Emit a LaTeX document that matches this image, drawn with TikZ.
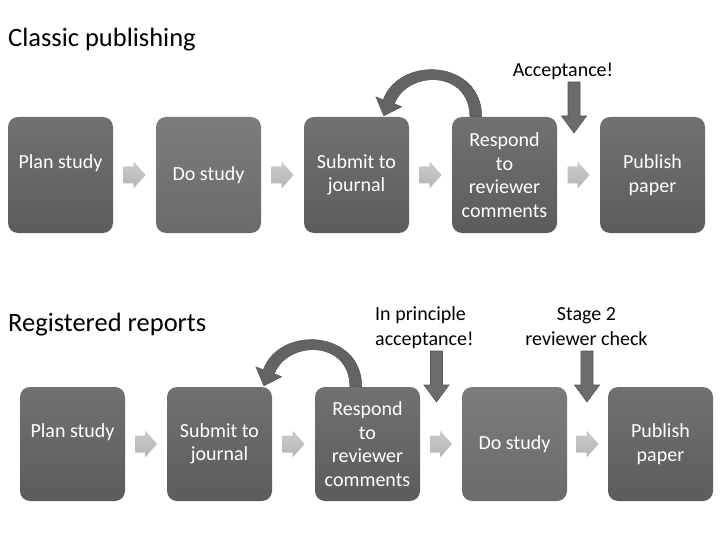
\documentclass[tikz,border=0pt]{standalone}
\usepackage{fontspec}
\setmainfont{Carlito}
\usetikzlibrary{calc}
\definecolor{boxtop}{HTML}{717171}
\definecolor{boxbot}{HTML}{5C5C5C}
\definecolor{dotop}{HTML}{7C7C7C}
\definecolor{dobot}{HTML}{6B6B6B}
\definecolor{blktop}{HTML}{CBCBCB}
\definecolor{blkbot}{HTML}{B4B4B4}
\definecolor{darrow}{HTML}{6C6C6C}
\definecolor{darrowedge}{HTML}{555555}
\definecolor{carrow}{HTML}{636363}
\tikzset{
  stepbox/.style={rounded corners=10pt, minimum width=105pt, minimum height=116pt,
    inner sep=2pt, top color=boxtop, bottom color=boxbot, text=white, align=center,
    font=\fontsize{20}{23.5}\selectfont},
  dobox/.style={stepbox, top color=dotop, bottom color=dobot},
  lowbox/.style={minimum height=114pt},
  boxlabel/.style={text=white, inner sep=0pt, font=\fontsize{20}{23.5}\selectfont},
  titletext/.style={font=\fontsize{26.5}{31}\selectfont, anchor=base west, inner sep=0pt},
  note/.style={font=\fontsize{20}{25}\selectfont, inner sep=0pt},
  blockarr/.style={top color=blktop, bottom color=blkbot, draw=none},
  downarr/.style={fill=darrow, draw=darrowedge, line width=0.6pt},
  curvarr/.style={fill=carrow, draw=carrow!85!black, line width=0.4pt}
}
\newcommand{\myblockarrow}[1]{%
  \shade[blockarr, shift={(#1)}] (-11,-8.5) -- (-1,-8.5) -- (-1,-13.5) -- (11,0)
    -- (-1,13.5) -- (-1,8.5) -- (-11,8.5) -- cycle;}
\newcommand{\mydownarrow}[1]{%
  \path[downarr, shift={(#1)}] (-6,0) -- (6,0) -- (6,34) -- (12.5,34) -- (0,51)
    -- (-12.5,34) -- (-6,34) -- cycle;}
\newcommand{\mycurvearrow}[1]{%
  \path[curvarr, shift={(#1)}] (0,0) .. controls (0,-57) and (-82,-62) .. (-98.6,-17)
    -- (-106,-20) -- (-98,-1) -- (-80,-10) -- (-87.4,-13)
    .. controls (-74,-47) and (-12,-47) .. (-12,0) -- cycle;}
\begin{document}
\begin{tikzpicture}[x=1pt,y=-1pt]
\useasboundingbox (0,0) rectangle (720,540);
\fill[white] (0,0) rectangle (720,540);

% Titles
\node[titletext] (title1) at (8,47) {Classic publishing};
\node[titletext] (title2) at (8,331) {Registered reports};

% Top row
\node[stepbox] (t1) at (60.5,175) {};
\node[boxlabel, yshift=12pt] (t1l) at (t1.center) {Plan study};
\node[dobox] (t2) at (208.5,175) {Do study};
\node[stepbox] (t3) at (356.5,175) {Submit to\\journal};
\node[stepbox] (t4) at (504.5,175) {Respond\\to\\reviewer\\comments};
\node[stepbox] (t5) at (652.5,175) {Publish\\paper};

\foreach \a/\b [count=\i] in {t1/t2,t2/t3,t3/t4,t4/t5}{
  \coordinate (tm\i) at ($(\a.east)!0.5!(\b.west)$);
  \myblockarrow{tm\i}
}

\coordinate (tc) at ($(t4.north west)+(30,0)$);
\mycurvearrow{tc}

\node[note, anchor=base] (acc) at (563,77) {Acceptance!};
\coordinate (td) at (574,82);
\mydownarrow{td}

% Bottom row
\node[stepbox, lowbox] (b1) at (72.5,444) {};
\node[boxlabel, yshift=12pt] (b1l) at (b1.center) {Plan study};
\node[stepbox, lowbox] (b2) at (219.5,444) {Submit to\\journal};
\node[stepbox, lowbox] (b3) at (367.5,444) {Respond\\to\\reviewer\\comments};
\node[dobox, lowbox] (b4) at (514.5,444) {Do study};
\node[stepbox, lowbox] (b5) at (660.5,444) {Publish\\paper};

\foreach \a/\b [count=\i] in {b1/b2,b2/b3,b3/b4,b4/b5}{
  \coordinate (bm\i) at ($(\a.east)!0.5!(\b.west)$);
  \myblockarrow{bm\i}
}

\coordinate (bc) at ($(b3.north west)+(47,0)$);
\mycurvearrow{bc}

\node[note, align=left, anchor=west] (ipa) at (375,328) {In principle\\acceptance!};
\node[note, align=center, anchor=center] (st2) at (586.5,327) {Stage 2\\reviewer check};
\coordinate (bd1) at (436.5,351);
\coordinate (bd2) at (587,351);
\mydownarrow{bd1}
\mydownarrow{bd2}
\end{tikzpicture}
\end{document}
